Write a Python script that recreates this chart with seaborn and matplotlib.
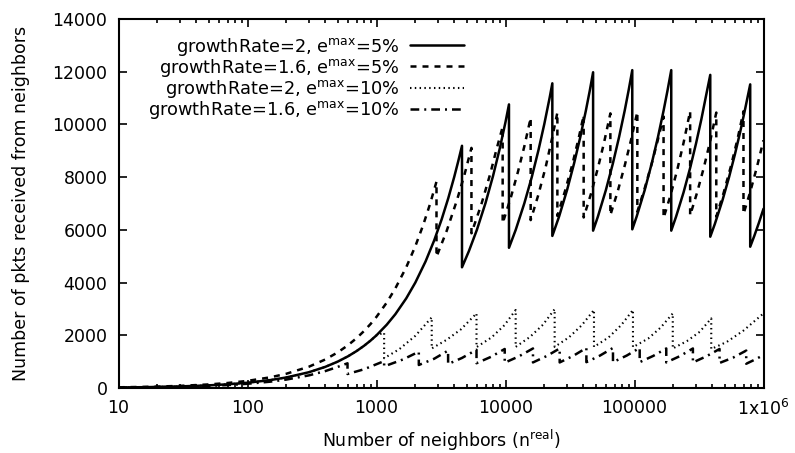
import matplotlib
matplotlib.use("Agg")
import matplotlib.pyplot as plt
import seaborn as sns

# growthRate=2, e^max=5%  (solid)
x_gr2_e5 = [10, 15, 20, 30, 50, 70, 100, 150, 200, 300, 400, 500, 600, 700, 800, 900,
            1000, 1200, 1400, 1700, 2000, 2400, 2800, 3200, 3600, 4000, 4300, 4600,
            4600, 5200, 6000, 7000, 8000, 9000, 10000, 10640,
            10640, 12000, 14000, 16000, 18000, 20000, 22000, 23070,
            23070, 26000, 30000, 34000, 38000, 42000, 45000, 47760,
            47760, 52000, 60000, 68000, 76000, 84000, 90000, 96100,
            96100, 104000, 120000, 136000, 152000, 168000, 180000, 192700,
            192700, 210000, 240000, 270000, 300000, 330000, 360000, 386600,
            386600, 420000, 480000, 540000, 600000, 660000, 720000, 788800,
            788800, 850000, 920000, 1000000]
y_gr2_e5 = [20, 30, 40, 60, 100, 140, 200, 300, 400, 600, 800, 1000, 1200, 1400, 1600, 1800,
            2000, 2400, 2800, 3400, 4000, 4800, 5600, 6400, 7200, 8000, 8600, 9190,
            4580, 5190, 6000, 7020, 8040, 9060, 10090, 10760,
            5320, 6000, 7010, 8010, 9020, 10020, 11020, 11560,
            5770, 6500, 7510, 8520, 9520, 10530, 11280, 11980,
            5970, 6500, 7510, 8520, 9530, 10530, 11290, 12060,
            6020, 6510, 7510, 8520, 9520, 10520, 11270, 12060,
            5970, 6500, 7420, 8350, 9280, 10200, 11130, 11880,
            5740, 6230, 7110, 7990, 8860, 9720, 10580, 11520,
            5360, 5780, 6260, 6800]

# growthRate=1.6, e^max=5%  (dashed)
x_gr16_e5 = [10, 15, 20, 30, 50, 70, 100, 150, 200, 300, 400, 500, 600, 700, 800, 900,
             1000, 1200, 1400, 1700, 2000, 2300, 2600, 2918,
             2918, 3500, 4200, 4800, 5445,
             5445, 6500, 7600, 8500, 9506,
             9506, 11000, 12500, 14000, 15670,
             15670, 18000, 20500, 23000, 25240,
             25240, 29000, 33000, 37000, 40360,
             40360, 46000, 52000, 58000, 65000,
             65000, 74000, 84000, 94000, 105200,
             105200, 120000, 136000, 152000, 168000,
             168000, 190000, 215000, 240000, 270000,
             270000, 305000, 345000, 385000, 430500,
             430500, 490000, 560000, 630000, 699500,
             699500, 790000, 890000, 1000000]
y_gr16_e5 = [27, 40, 54, 81, 135, 189, 270, 405, 540, 810, 1080, 1350, 1620, 1890, 2160, 2430,
             2700, 3240, 3780, 4580, 5380, 6180, 6980, 7830,
             4980, 5960, 7120, 8080, 9110,
             5870, 6970, 8110, 9040, 9910,
             6250, 7230, 8210, 9170, 10250,
             6370, 7340, 8390, 9490, 10450,
             6530, 7490, 8490, 9500, 10350,
             6470, 7370, 8340, 9300, 10420,
             6560, 7450, 8440, 9410, 10480,
             6690, 7580, 8510, 9430, 10300,
             6450, 7300, 8300, 9300, 10500,
             6550, 7400, 8370, 9340, 10450,
             6500, 7390, 8430, 9460, 10500,
             6600, 7450, 8390, 9400]

# growthRate=2, e^max=10%  (dotted)
x_gr2_e10 = [10, 15, 20, 30, 50, 70, 100, 150, 200, 300, 400, 500, 600, 700, 800, 900,
             1000, 1146,
             1146, 1500, 2000, 2680,
             2680, 3500, 4500, 5960,
             5960, 7800, 9800, 11990,
             11990, 15500, 19500, 24040,
             24040, 31000, 39000, 48520,
             48520, 63000, 79000, 97300,
             97300, 128000, 160000, 198000,
             198000, 255000, 320000, 393500,
             393500, 520000, 700000, 1000000]
y_gr2_e10 = [20, 30, 40, 60, 100, 140, 200, 300, 400, 600, 800, 1000, 1200, 1400, 1600, 1800,
             2000, 2100,
             1130, 1470, 1980, 2680,
             1500, 1830, 2220, 2830,
             1550, 1920, 2380, 2960,
             1560, 1940, 2400, 2990,
             1560, 1920, 2380, 2960,
             1560, 1920, 2390, 2960,
             1550, 1880, 2300, 2830,
             1500, 1780, 2130, 2640,
             1480, 1750, 2180, 2830]

# growthRate=1.6, e^max=10%  (dash-dot)
x_gr16_e10 = [10, 15, 20, 30, 50, 70, 100, 150, 200, 300, 400, 500, 596,
              596, 800, 1146,
              1146, 1600, 2128,
              2128, 2800, 3590,
              3590, 4600, 5960,
              5960, 7700, 9860,
              9860, 12700, 16330,
              16330, 20800, 26300,
              26300, 33500, 42360,
              42360, 54000, 68100,
              68100, 87000, 109700,
              109700, 140000, 176300,
              176300, 225000, 283600,
              283600, 360000, 456300,
              456300, 580000, 734500,
              734500, 860000, 1000000]
y_gr16_e10 = [16, 24, 32, 48, 80, 112, 160, 240, 320, 480, 640, 800, 937,
              531, 710, 1020,
              820, 1080, 1377,
              873, 1110, 1420,
              910, 1140, 1450,
              940, 1180, 1480,
              960, 1200, 1500,
              970, 1210, 1500,
              970, 1220, 1520,
              980, 1230, 1520,
              980, 1230, 1520,
              980, 1220, 1500,
              970, 1210, 1500,
              970, 1200, 1480,
              950, 1150, 1420,
              920, 1080, 1250]

labels = [r"growthRate=2, e$^{\mathrm{max}}$=5%",
          r"growthRate=1.6, e$^{\mathrm{max}}$=5%",
          r"growthRate=2, e$^{\mathrm{max}}$=10%",
          r"growthRate=1.6, e$^{\mathrm{max}}$=10%"]

xticks = [10, 100, 1000, 10000, 100000, 1000000]
xticklabels = ["10", "100", "1000", "10000", "100000", r"1x10$^{6}$"]
yticks = [0, 2000, 4000, 6000, 8000, 10000, 12000, 14000]

sns.set_style("ticks")
plt.rcParams["font.family"] = ["DejaVu Sans"]
plt.rcParams["mathtext.fontset"] = "dejavusans"
for key in ["text.color", "axes.labelcolor", "xtick.color", "ytick.color", "axes.edgecolor"]:
    plt.rcParams[key] = "black"

fig = plt.figure(figsize=(7.95, 4.53), dpi=100)
ax = fig.add_axes([118.5 / 795, 65 / 453, 645 / 795, 369 / 453])

series = [(x_gr2_e5, y_gr2_e5, "-", 1.8),
          (x_gr16_e5, y_gr16_e5, (0, (2.4, 2.4)), 1.8),
          (x_gr2_e10, y_gr2_e10, (0, (0.7, 1.6)), 1.5),
          (x_gr16_e10, y_gr16_e10, (0, (3.5, 2.0, 0.8, 2.0)), 1.8)]

for (xs, ys, ls, lw), lab in zip(series, labels):
    sns.lineplot(x=xs, y=ys, estimator=None, sort=False, ax=ax,
                 color="black", linestyle=ls, linewidth=lw, label=lab)

ax.set_xscale("log")
ax.set_xlim(10, 1000000)
ax.set_ylim(0, 14000)
ax.set_xticks(xticks)
ax.set_xticklabels(xticklabels)
ax.set_yticks(yticks)

for s in ax.spines.values():
    s.set_visible(True)
    s.set_linewidth(1.5)
ax.tick_params(which="both", direction="in", top=True, right=True,
               labelsize=12.5, width=1.2, pad=8)
ax.tick_params(which="major", length=6)
ax.tick_params(which="minor", length=3)

ax.set_xlabel(r"Number of neighbors (n$^{\mathrm{real}}$)", fontsize=12.5, labelpad=6)
ax.set_ylabel("Number of pkts received from neighbors", fontsize=12.5, labelpad=16)

leg = ax.legend(loc="upper right", bbox_to_anchor=(0.535, 0.955), frameon=False,
                markerfirst=False, fontsize=12.8, handlelength=3.0,
                handletextpad=0.6, labelspacing=-0.05, borderpad=0, borderaxespad=0)

fig.savefig("out.png", dpi=100)
